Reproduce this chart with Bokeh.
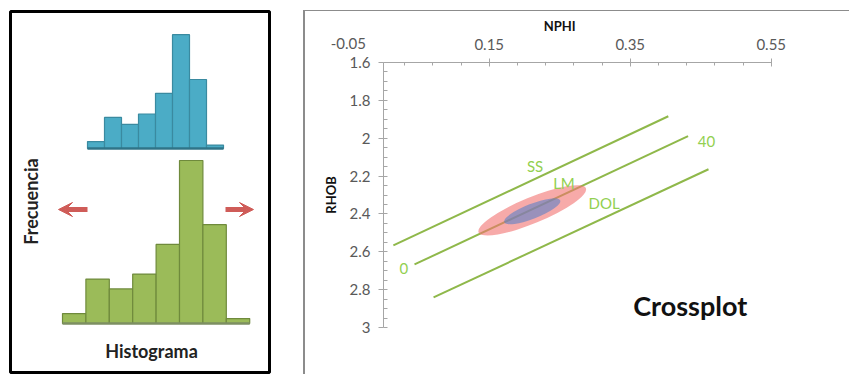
import numpy as np
from math import pi
from bokeh.plotting import figure
from bokeh.models import (Range1d, LinearAxis, FixedTicker, CustomJSTickFormatter,
                          Label, Arrow, VeeHead)
from bokeh.layouts import row
from bokeh.embed import file_html
from bokeh.resources import INLINE
from bokeh.core.properties import value

# ---------------- data ----------------
hist_counts = [2, 9, 7, 10, 16, 33, 20, 1]          # Frecuencia per bin

nphi_ticks = [-0.05, 0.15, 0.35, 0.55]
rhob_ticks = [1.6, 1.8, 2.0, 2.2, 2.4, 2.6, 2.8, 3.0]

line_names = ["SS", "LM", "DOL"]
line_nphi_start = [0.014, 0.044, 0.071]
line_rhob_start = [2.566, 2.667, 2.841]
line_nphi_end = [0.404, 0.432, 0.461]
line_rhob_end = [1.884, 1.989, 2.164]

label_texts = ["SS", "LM", "DOL", "0", "40"]
label_nphi = [0.215, 0.256, 0.313, 0.029, 0.458]
label_rhob = [2.148, 2.238, 2.344, 2.688, 2.015]

cluster_nphi = [0.211, 0.211]
cluster_rhob = [2.381, 2.386]

FONT = "Lato"

# ---------------- left panel (histogram sketch) ----------------
pl = figure(width=303, height=375, x_range=Range1d(0, 259), y_range=Range1d(0, 361),
            x_axis_location=None, y_axis_location=None, title_location=None,
            output_backend="svg", toolbar_location=None, frame_align=False,
            min_border_left=10, min_border_right=34, min_border_top=11, min_border_bottom=3)
pl.grid.visible = False
pl.outline_line_color = "black"
pl.outline_line_width = 3
pl.background_fill_color = "white"
pl.border_fill_color = "white"

counts = np.array(hist_counts, dtype=float)
idx = np.arange(len(counts))
specs = [
    # origin x, baseline y, bin width, px per count, fill, edge, base line
    (52, 49, 23.4, 4.94, "#9bbb59", "#6f8a3c", "#7d8f62"),
    (77, 224, 17.0, 3.45, "#4bacc6", "#3a8aa0", "#2f7488"),
]
for x0, base, bw, sc, fill, edge, basecol in specs:
    left = x0 + idx * bw
    pl.quad(left=left, right=left + bw, bottom=base, top=base + counts * sc,
            fill_color=fill, line_color=edge, line_width=1.2)
    pl.segment(x0=[x0], y0=[base], x1=[x0 + len(counts) * bw], y1=[base],
               line_color=basecol, line_width=2.5)

RED = "#cf5c58"
for xs, xe in [(77, 48), (215, 243)]:
    pl.add_layout(Arrow(end=VeeHead(size=14, fill_color=RED, line_color=RED),
                        x_start=xs, y_start=163, x_end=xe, y_end=163,
                        line_color=RED, line_width=5))

pl.add_layout(Label(x=20, y=171, text="Frecuencia", angle=pi / 2,
                    text_font=FONT, text_font_style="bold", text_font_size="18px",
                    text_color="#222222", text_align="center", text_baseline="middle"))
pl.add_layout(Label(x=141, y=22, text="Histograma",
                    text_font=FONT, text_font_style="bold", text_font_size="18px",
                    text_color="#222222", text_align="center", text_baseline="middle"))

# ---------------- right panel (crossplot) ----------------
pr = figure(width=546, height=364, x_range=Range1d(0, 468 / 705),
            y_range=Range1d(3.0, 1.6),
            x_axis_location=None, y_axis_location=None, title_location=None,
            output_backend="svg", toolbar_location=None, frame_align=False,
            min_border_left=78, min_border_top=51, min_border_right=0, min_border_bottom=48,
            margin=(10, 0, 0, 0),
            styles={"border-left": "2px solid #8c8c8c", "border-top": "1px solid #8c8c8c"})
pr.grid.visible = False
pr.outline_line_color = None
pr.background_fill_color = "white"
pr.border_fill_color = "white"

fmt = CustomJSTickFormatter(code="return (Math.round(tick*100)/100).toString();")
AX = "#a6a6a6"
TICK_COL = "#595959"
X_TICK_OUT, X_STANDOFF = 4, 9

x_minor = [round(-0.05 + 0.04 * i, 2) for i in range(16)]
xa = LinearAxis(ticker=FixedTicker(ticks=nphi_ticks, minor_ticks=x_minor),
                formatter=fmt, bounds=(0, 0.55))
xa.axis_line_color = AX
xa.major_tick_line_color = AX
xa.minor_tick_line_color = AX
xa.major_tick_in = 4
xa.major_tick_out = X_TICK_OUT
xa.minor_tick_in = 3
xa.minor_tick_out = 0
xa.major_label_standoff = X_STANDOFF
xa.major_label_text_font = FONT
xa.major_label_text_font_size = "15px"
xa.major_label_text_color = TICK_COL
pr.add_layout(xa, "above")

y_minor = [round(1.6 + 0.05 * i, 2) for i in range(29)]
ya = LinearAxis(ticker=FixedTicker(ticks=rhob_ticks, minor_ticks=y_minor),
                formatter=fmt, axis_label="RHOB")
ya.axis_line_color = AX
ya.major_tick_line_color = AX
ya.minor_tick_line_color = AX
ya.major_tick_in = 0
ya.major_tick_out = 5
ya.minor_tick_in = 4
ya.minor_tick_out = 0
ya.major_label_standoff = 8
ya.major_label_text_font = FONT
ya.major_label_text_font_size = "15px"
ya.major_label_text_color = TICK_COL
ya.axis_label_standoff = 8
ya.axis_label_text_font = FONT
ya.axis_label_text_font_style = "bold"
ya.axis_label_text_font_size = "13px"
ya.axis_label_text_color = "#111111"
pr.add_layout(ya, "left")

PX_PER_RHOB = 189.0
# tick label that lies left of the vertical axis (kept in a side panel so it is not clipped)
for t in nphi_ticks:
    if t < 0:
        pr.add_layout(Label(x=t, y=1.6 - (X_TICK_OUT + X_STANDOFF) / PX_PER_RHOB, text=str(t),
                            text_font=FONT, text_font_size="15px",
                            text_color=TICK_COL, text_align="center",
                            text_baseline="bottom"), "below")

# axis title of the NPHI axis, centred over the tick span
pr.add_layout(Label(x=(nphi_ticks[0] + nphi_ticks[-1]) / 2, y=1.6 - 36 / PX_PER_RHOB,
                    text="NPHI", text_font=FONT, text_font_style="bold",
                    text_font_size="13px", text_color="#111111",
                    text_align="center", text_baseline="middle"), "below")

pr.segment(x0=line_nphi_start, y0=line_rhob_start, x1=line_nphi_end, y1=line_rhob_end,
           line_color="#8fb84a", line_width=2)

pr.ellipse(x=cluster_nphi[:1], y=cluster_rhob[:1], width=116, height=26, angle=0.39,
           width_units="screen", height_units="screen",
           fill_color="#f27170", fill_alpha=0.6, line_color=None)
pr.ellipse(x=cluster_nphi[1:], y=cluster_rhob[1:], width=60, height=15, angle=0.37,
           width_units="screen", height_units="screen",
           fill_color="#5a80c8", fill_alpha=0.6, line_color=None)

pr.text(x=label_nphi, y=label_rhob, text=label_texts,
        text_font=value(FONT), text_font_size="15px", text_color="#92d050",
        text_align="center", text_baseline="middle")

pr.add_layout(Label(x=0.435, y=2.883, text="Crossplot",
                    text_font=FONT, text_font_style="bold", text_font_size="27px",
                    text_color="#111111", text_align="center", text_baseline="middle"))

layout = row(pl, pr)
open("out.html", "w").write(file_html(layout, INLINE))
